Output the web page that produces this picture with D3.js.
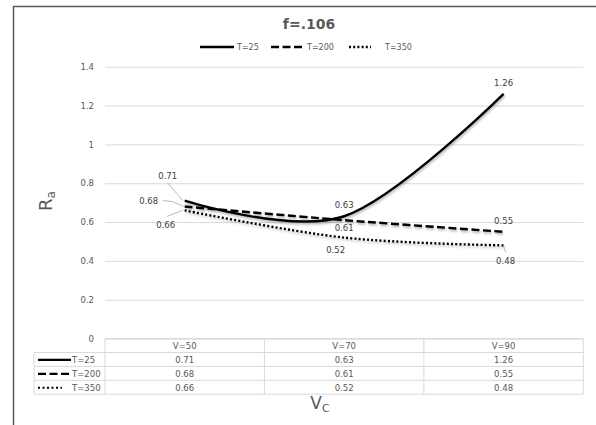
<!DOCTYPE html>
<html><head><meta charset="utf-8">
<script src="https://cdn.jsdelivr.net/npm/d3@7"></script>
<style>
html,body{margin:0;padding:0;background:#fff;}
svg{display:block;font-family:"DejaVu Sans",Verdana,sans-serif;}
</style></head>
<body>
<svg id="c" width="596" height="425"></svg>
<script>
// ---- data ----
const categories = ["V=50", "V=70", "V=90"];
const seriesNames = ["T=25", "T=200", "T=350"];
const t25 = [0.71, 0.63, 1.26];
const t200 = [0.68, 0.61, 0.55];
const t350 = [0.66, 0.52, 0.48];
const yTicks = [0, 0.2, 0.4, 0.6, 0.8, 1, 1.2, 1.4];
const chartTitle = "f=.106";

(function () {
const svg = d3.select("#c");
const gray = "#595959";
const gridCol = "#d9d9d9";

// border
svg.append("rect").attr("x", 13.5).attr("y", 6.5).attr("width", 700).attr("height", 600)
  .attr("fill", "none").attr("stroke", "#5a5a5a").attr("stroke-width", 1.5);

const pLeft = 105, pRight = 583.3, pTop = 66.7, pBottom = 338.6;
const x = d3.scaleBand().domain(categories).range([pLeft, pRight]).padding(0);
const y = d3.scaleLinear().domain([0, 1.4]).range([pBottom, pTop]);
const cx = c => x(c) + x.bandwidth() / 2;

// defs: shadow
const defs = svg.append("defs");
const f = defs.append("filter").attr("id", "sh").attr("x", "-10%").attr("y", "-50%").attr("width", "120%").attr("height", "200%");
f.append("feDropShadow").attr("dx", 0.8).attr("dy", 1.8).attr("stdDeviation", 1.1)
  .attr("flood-color", "#000").attr("flood-opacity", 0.3);

// title
svg.append("text").attr("x", 309).attr("y", 28.5).attr("text-anchor", "middle")
  .attr("font-size", 14).attr("font-weight", "bold").attr("fill", gray).text(chartTitle);

// gridlines + y tick labels via axis
const yAxis = d3.axisLeft(y).tickValues(yTicks).tickSize(-(pRight - pLeft)).tickFormat(d => d === 0 ? "0" : String(d));
const ga = svg.append("g").attr("transform", `translate(${pLeft},0)`).call(yAxis);
ga.select(".domain").remove();
ga.selectAll(".tick line").attr("stroke", gridCol).attr("stroke-width", 1);
ga.selectAll(".tick text").attr("x", -11).attr("fill", gray).attr("font-size", 8.5)
  .attr("font-family", "DejaVu Sans, Verdana, sans-serif");

// series
const dashes = [null, "8,3.5", "2,2.2"];
const styles = [
  { name: seriesNames[0], vals: t25, dash: dashes[0] },
  { name: seriesNames[1], vals: t200, dash: dashes[1] },
  { name: seriesNames[2], vals: t350, dash: dashes[2] }
];
const line = d3.line().x((d, i) => cx(categories[i])).y(d => y(d)).curve(d3.curveCardinal.tension(0));
const lg = svg.append("g").attr("filter", "url(#sh)");
styles.forEach(s => {
  lg.append("path").attr("d", line(s.vals)).attr("fill", "none").attr("stroke", "#000")
    .attr("stroke-width", 2.4).attr("stroke-dasharray", s.dash).attr("stroke-linecap", "butt");
});

// data labels (offsets are layout, separate from data)
const labelPos = [
  [{ dx: -17, dy: -24.5, lead: [[-2, 0], [-17, -18]] }, { dx: 0, dy: -11 }, { dx: 0, dy: -11 }],
  [{ dx: -36, dy: -5.5, lead: [[-1, 0], [-12, -5], [-22, -6]] }, { dx: 0, dy: 8 }, { dx: 0, dy: -11 }],
  [{ dx: -19, dy: 14.5, lead: [[-2, 0], [-18, 6]] }, { dx: -8.5, dy: 12 }, { dx: 2, dy: 16, lead: [[0, 1], [2, 7]] }]
];
const dl = svg.append("g");
styles.forEach((s, si) => {
  s.vals.forEach((v, i) => {
    const px = cx(categories[i]), py = y(v);
    const p = labelPos[si][i];
    if (p.lead) {
      dl.append("polyline").attr("points", p.lead.map(q => [px + q[0], py + q[1]].join(",")).join(" "))
        .attr("fill", "none").attr("stroke", "#a6a6a6").attr("stroke-width", 0.8);
    }
    dl.append("text").attr("x", px + p.dx).attr("y", py + p.dy).attr("dy", "0.35em")
      .attr("text-anchor", "middle").attr("font-size", 8.5).attr("fill", "#404040").text(d3.format(".2f")(v));
  });
});

// legend
const legItems = [
  { x1: 200, x2: 234, tx: 237 },
  { x1: 271, x2: 302, tx: 307 },
  { x1: 349, x2: 371, tx: 385 }
];
const leg = svg.append("g");
legItems.forEach((l, i) => {
  leg.append("line").attr("x1", l.x1).attr("x2", l.x2).attr("y1", 47).attr("y2", 47)
    .attr("stroke", "#000").attr("stroke-width", 2.4).attr("stroke-dasharray", dashes[i]);
  leg.append("text").attr("x", l.tx).attr("y", 47).attr("dy", "0.35em").attr("font-size", 8)
    .attr("fill", gray).text(seriesNames[i]);
});

// data table
const rowH = 13.9;
const tLeft = 34;
const keyEnd = [71, 69, 62];
const tb = svg.append("g");
const tableBottom = pBottom + rowH * 4;
tb.append("line").attr("x1", pLeft).attr("x2", pRight).attr("y1", pBottom).attr("y2", pBottom).attr("stroke", gridCol);
for (let r = 1; r <= 4; r++) {
  tb.append("line").attr("x1", tLeft).attr("x2", pRight).attr("y1", pBottom + r * rowH).attr("y2", pBottom + r * rowH)
    .attr("stroke", gridCol);
}
tb.append("line").attr("x1", tLeft).attr("x2", tLeft).attr("y1", pBottom + rowH).attr("y2", tableBottom).attr("stroke", gridCol);
[pLeft, ...categories.map(c => x(c) + x.bandwidth())].forEach(xx => {
  tb.append("line").attr("x1", xx).attr("x2", xx).attr("y1", pBottom).attr("y2", tableBottom).attr("stroke", gridCol);
});
categories.forEach(c => {
  tb.append("text").attr("x", cx(c)).attr("y", pBottom + rowH / 2 + 0.5).attr("dy", "0.35em").attr("text-anchor", "middle")
    .attr("font-size", 8.5).attr("fill", gray).text(c);
});
styles.forEach((s, si) => {
  const ry = pBottom + rowH * (si + 1) + rowH / 2 + 0.5;
  tb.append("line").attr("x1", 38).attr("x2", keyEnd[si]).attr("y1", ry).attr("y2", ry)
    .attr("stroke", "#000").attr("stroke-width", 2.2).attr("stroke-dasharray", si === 2 ? "2,2.5" : s.dash);
  tb.append("text").attr("x", 72).attr("y", ry).attr("dy", "0.35em").attr("font-size", 8.5).attr("fill", gray).text(s.name);
  s.vals.forEach((v, i) => {
    tb.append("text").attr("x", cx(categories[i])).attr("y", ry).attr("dy", "0.35em").attr("text-anchor", "middle")
      .attr("font-size", 8.5).attr("fill", gray).text(d3.format(".2f")(v));
  });
});

// axis titles
const xt = svg.append("text").attr("x", 320).attr("y", 409).attr("text-anchor", "middle").attr("fill", gray);
xt.append("tspan").attr("font-size", 17).text("V");
xt.append("tspan").attr("font-size", 11).attr("dy", 3).text("C");

const yt = svg.append("text").attr("transform", "translate(52,201) rotate(-90)").attr("text-anchor", "middle").attr("fill", gray);
yt.append("tspan").attr("font-size", 18).text("R");
yt.append("tspan").attr("font-size", 12).attr("dy", 3).text("a");
})();
</script>
</body></html>
